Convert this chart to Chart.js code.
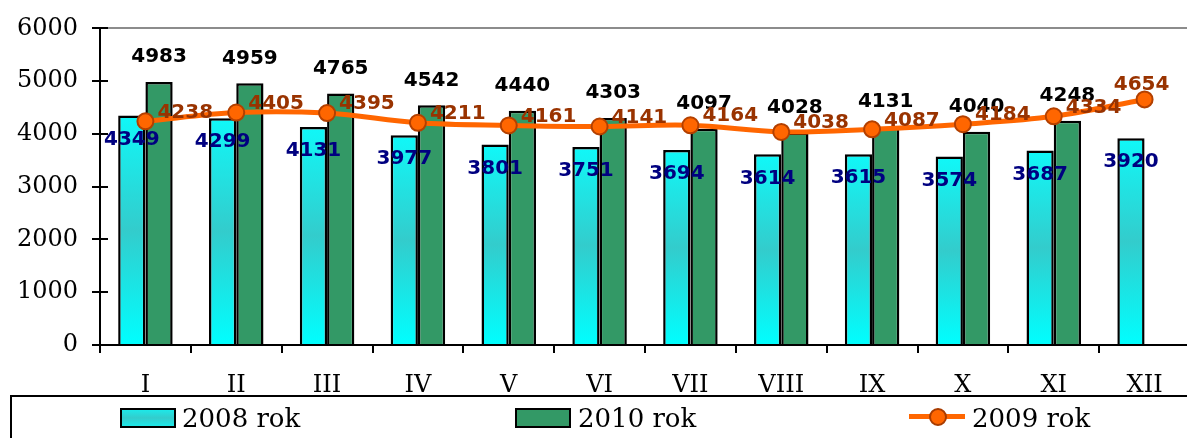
<!DOCTYPE html>
<html>
<head>
<meta charset="utf-8">
<script src="https://cdn.jsdelivr.net/npm/chart.js@4/dist/chart.umd.min.js"></script>
<style>
  html, body { margin: 0; padding: 0; background: #fff; overflow: hidden; }
  #wrap { position: relative; width: 1200px; height: 438px; }
  #legend {
    position: absolute; left: 10px; top: 395px; width: 1200px; height: 60px;
    border-top: 2px solid #000; border-left: 2px solid #000;
    font-family: "DejaVu Serif", serif; font-size: 26px; color: #000;
  }
  .item { position: absolute; top: 0; height: 40px; line-height: 40px; white-space: nowrap; }
  .sw { position: absolute; top: 11px; width: 52px; height: 16px; border: 2px solid #000; }
  .lbl { position: absolute; top: 1px; }
</style>
</head>
<body>
<div id="wrap">
  <canvas id="chart" width="1200" height="396"></canvas>
  <div id="legend">
    <div class="item" style="left:108px">
      <div class="sw" style="left:0;background:linear-gradient(#1ee8e8,#33cccc 50%,#1ee8e8)"></div>
      <span class="lbl" style="left:62px">2008 rok</span>
    </div>
    <div class="item" style="left:503px">
      <div class="sw" style="left:0;background:#339966"></div>
      <span class="lbl" style="left:63px">2010 rok</span>
    </div>
    <div class="item" style="left:897px">
      <div style="position:absolute;left:0;top:17px;width:56px;height:5px;background:#ff6600"></div>
      <div style="position:absolute;left:20px;top:11px;width:14px;height:14px;border-radius:50%;background:#ff6600;border:2px solid #a83c00"></div>
      <span class="lbl" style="left:63px">2009 rok</span>
    </div>
  </div>
</div>
<script>
const months = ['I', 'II', 'III', 'IV', 'V', 'VI', 'VII', 'VIII', 'IX', 'X', 'XI', 'XII'];
const rok2008 = [4349, 4299, 4131, 3977, 3801, 3751, 3694, 3614, 3615, 3574, 3687, 3920];
const rok2010 = [4983, 4959, 4765, 4542, 4440, 4303, 4097, 4028, 4131, 4040, 4248, null];
const rok2009 = [4238, 4405, 4395, 4211, 4161, 4141, 4164, 4038, 4087, 4184, 4334, 4654];
const yTicks = [0, 1000, 2000, 3000, 4000, 5000, 6000];

// cyan bars: gradient light -> teal -> light along each bar
function cyanFill(ctx) {
  const chart = ctx.chart;
  if (!chart.chartArea || ctx.raw == null) return '#1ee8e8';
  const y = chart.scales.y;
  const top = y.getPixelForValue(ctx.raw);
  const base = y.getPixelForValue(0);
  const g = chart.ctx.createLinearGradient(0, top, 0, base);
  g.addColorStop(0, '#10f8f8');
  g.addColorStop(0.5, '#33cccc');
  g.addColorStop(1, '#00ffff');
  return g;
}

const labelFont = 'bold 20px "DejaVu Sans", Verdana, sans-serif';

const valueLabels = {
  id: 'valueLabels',
  afterDatasetsDraw(chart) {
    const c = chart.ctx;
    c.save();
    c.font = labelFont;
    c.textBaseline = 'middle';
    // 2008 (inside cyan bar, navy)
    chart.getDatasetMeta(0).data.forEach((el, i) => {
      if (rok2008[i] == null) return;
      c.fillStyle = '#000080';
      c.textAlign = 'center';
      c.fillText(rok2008[i], el.x, el.y + 24);
    });
    // 2010 (above green bar, black)
    chart.getDatasetMeta(1).data.forEach((el, i) => {
      if (rok2010[i] == null) return;
      c.fillStyle = '#000';
      c.textAlign = 'center';
      c.fillText(rok2010[i], el.x, el.y - 25);
    });
    // 2009 (line, brown)
    chart.getDatasetMeta(2).data.forEach((el, i) => {
      c.fillStyle = '#993300';
      if (i === rok2009.length - 1) {
        c.textAlign = 'center';
        c.fillText(rok2009[i], el.x - 3, el.y - 15);
      } else {
        c.textAlign = 'left';
        c.fillText(rok2009[i], el.x + 12, el.y - 9);
      }
    });
    c.restore();
  }
};

// y tick marks cross the axis: draw the inner half
const innerTicks = {
  id: 'innerTicks',
  afterDraw(chart) {
    const c = chart.ctx;
    const y = chart.scales.y;
    c.save();
    c.strokeStyle = '#000';
    c.lineWidth = 2;
    y.ticks.forEach(t => {
      const py = Math.round(y.getPixelForValue(t.value));
      c.beginPath();
      c.moveTo(y.right, py);
      c.lineTo(y.right + 8, py);
      c.stroke();
    });
    c.restore();
  }
};

new Chart(document.getElementById('chart'), {
  data: {
    labels: months,
    datasets: [
      {
        type: 'bar',
        label: '2008 rok',
        data: rok2008,
        backgroundColor: cyanFill,
        borderColor: '#000',
        borderWidth: 2.5,
        categoryPercentage: 0.6,
        barPercentage: 1,
        order: 2,
      },
      {
        type: 'bar',
        label: '2010 rok',
        data: rok2010,
        backgroundColor: '#339966',
        borderColor: '#000',
        borderWidth: 2.5,
        categoryPercentage: 0.6,
        barPercentage: 1,
        order: 2,
      },
      {
        type: 'line',
        label: '2009 rok',
        data: rok2009,
        borderColor: '#ff6600',
        borderWidth: 5,
        tension: 0.35,
        pointRadius: 8,
        pointBackgroundColor: '#ff6600',
        pointBorderColor: '#b34000',
        pointBorderWidth: 2,
        order: 1,
      },
    ],
  },
  options: {
    responsive: false,
    animation: false,
    layout: { padding: { top: 25, right: 6, left: 0, bottom: 0 } },
    plugins: {
      legend: { display: false },
      tooltip: { enabled: false },
    },
    scales: {
      x: {
        offset: true,
        grid: {
          offset: true,
          drawOnChartArea: false,
          color: '#000',
          lineWidth: 2,
          tickLength: 8,
        },
        border: { color: '#000', width: 2 },
        ticks: {
          color: '#000',
          font: { family: '"DejaVu Serif", serif', size: 24 },
          padding: 18,
          maxRotation: 0,
          autoSkip: false,
        },
        afterFit(scale) { scale.height = 51; },
      },
      y: {
        min: 0,
        max: 6000,
        afterBuildTicks(scale) { scale.ticks = yTicks.map(v => ({ value: v })); },
        grid: {
          color: ctx => (ctx.tick && ctx.tick.value === 6000 ? '#8c8c8c' : 'rgba(0,0,0,0)'),
          tickColor: '#000',
          lineWidth: 2,
          tickLength: 8,
        },
        border: { color: '#000', width: 2 },
        ticks: {
          color: '#000',
          font: { family: '"DejaVu Serif", serif', size: 24 },
          padding: 14,
          callback: v => String(v),
        },
        afterFit(scale) { scale.width = 100; },
      },
    },
  },
  plugins: [valueLabels, innerTicks],
});
</script>
</body>
</html>
